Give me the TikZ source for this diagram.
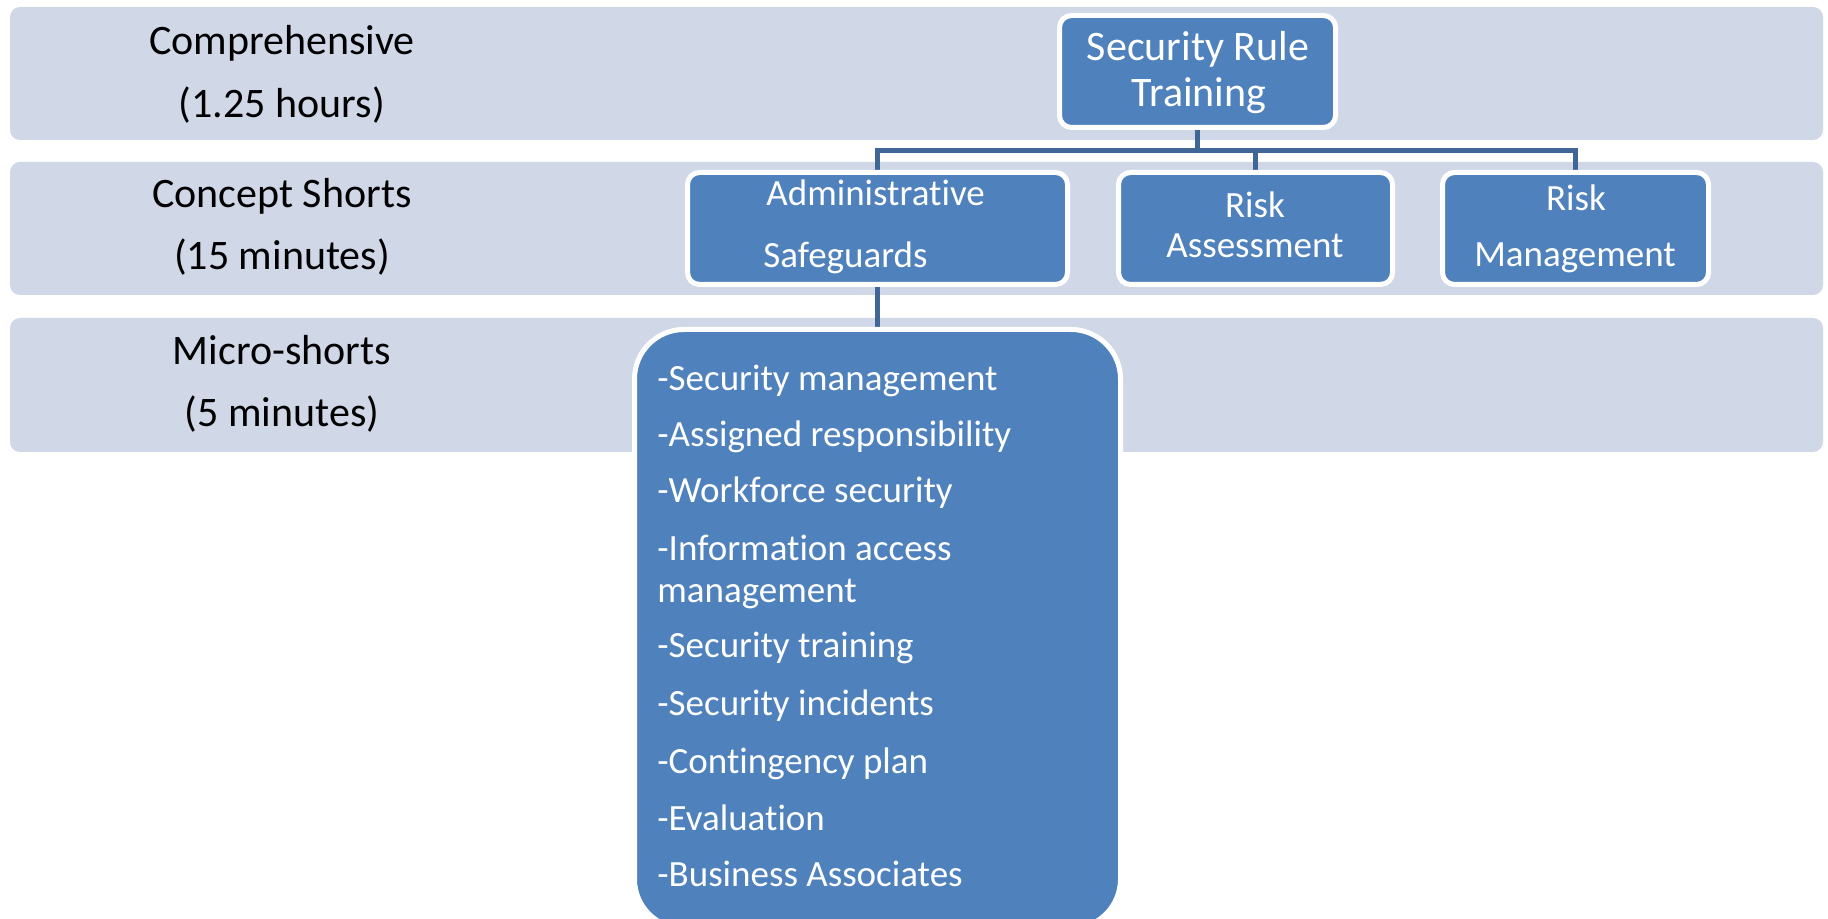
\documentclass[tikz,border=0pt]{standalone}
\usepackage{fontspec}
\setmainfont{Carlito}[Ligatures={NoCommon}]
\definecolor{bandfill}{RGB}{208,216,232}
\definecolor{boxblue}{RGB}{79,129,189}
\definecolor{connblue}{RGB}{63,102,150}
\pgfdeclarelayer{bands}
\pgfdeclarelayer{conns}
\pgfsetlayers{bands,conns,main}
\tikzset{
  band/.style={fill=bandfill, rounded corners=5pt},
  boxnode/.style={rectangle, fill=boxblue, draw=white, line width=2.5pt, rounded corners=6pt, inner sep=0pt},
  conn/.style={draw=connblue, line width=2.5pt},
  lbl/.style={inner sep=0pt, anchor=base, font=\fontsize{21pt}{23pt}\selectfont, text=black},
  bigw/.style={inner sep=0pt, anchor=base, font=\fontsize{21pt}{23pt}\selectfont, text=white},
  smw/.style={inner sep=0pt, anchor=base, font=\fontsize{18.5pt}{20pt}\selectfont, text=white},
  itemw/.style={inner sep=0pt, anchor=base west, font=\fontsize{18.5pt}{20pt}\selectfont, text=white},
}
\begin{document}
\begin{tikzpicture}[x=0.5pt, y=-0.5pt]
\useasboundingbox (0,0) rectangle (1828,919);
% bands
\begin{pgfonlayer}{bands}
\fill[white] (0,0) rectangle (1828,919);
\fill[band] (10,7) rectangle (1823,140);
\fill[band] (10,162) rectangle (1823,295);
\fill[band] (10,318) rectangle (1823,452);
\end{pgfonlayer}
% band labels
\node[lbl] (l1a) at (282,55) {Comprehensive};
\node[lbl] (l1b) at (282,118) {(1.25 hours)};
\node[lbl] (l2a) at (282,208) {Concept Shorts};
\node[lbl] (l2b) at (282,270) {(15 minutes)};
\node[lbl] (l3a) at (282,365) {Micro-shorts};
\node[lbl] (l3b) at (282,427) {(5 minutes)};
% boxes
\node[boxnode, minimum width=138pt, minimum height=56pt] (top) at (1197.5,71.5) {};
\node[boxnode, minimum width=190pt, minimum height=56pt] (admin) at (877.5,228.5) {};
\node[boxnode, minimum width=137pt, minimum height=56pt] (ra) at (1255.5,228.5) {};
\node[boxnode, minimum width=133pt, minimum height=56pt] (rm) at (1575.5,228.5) {};
\node[boxnode, rounded corners=24.75pt, minimum width=243pt, minimum height=299.5pt] (list) at (877.5,629) {};
% box texts
\node[bigw] (t1) at (1198,61) {Security Rule};
\node[bigw] (t2) at (1199,107) {Training};
\node[smw, anchor=base west] (a1) at (766,206) {Administrative};
\node[smw, anchor=base west] (a2) at (763,268) {Safeguards};
\node[smw] (r1) at (1255,218) {Risk};
\node[smw] (r2) at (1255,258) {Assessment};
\node[smw] (m1) at (1576,211) {Risk};
\node[smw] (m2) at (1575,267) {Management};
% list items
\node[itemw] (i1) at (657,391) {-Security management};
\node[itemw] (i2) at (657,447) {-Assigned responsibility};
\node[itemw] (i3) at (657,503) {-Workforce security};
\node[itemw] (i4) at (657,561) {-Information access};
\node[itemw] (i4b) at (657,603) {management};
\node[itemw] (i5) at (657,658) {-Security training};
\node[itemw] (i6) at (657,716) {-Security incidents};
\node[itemw] (i7) at (657,774) {-Contingency plan};
\node[itemw] (i8) at (657,830) {-Evaluation};
\node[itemw] (i9) at (657,886) {-Business Associates};
% connectors
\coordinate (bus) at (0,150.5);
\begin{pgfonlayer}{conns}
\draw[conn] (top.south) -- (top.south |- bus);
\draw[conn] (admin.north) |- (bus -| rm.north) -- (rm.north);
\draw[conn] (ra.north) -- (ra.north |- bus);
\draw[conn] (admin.south) -- (admin.south |- list.north);
\end{pgfonlayer}
\end{tikzpicture}
\end{document}
